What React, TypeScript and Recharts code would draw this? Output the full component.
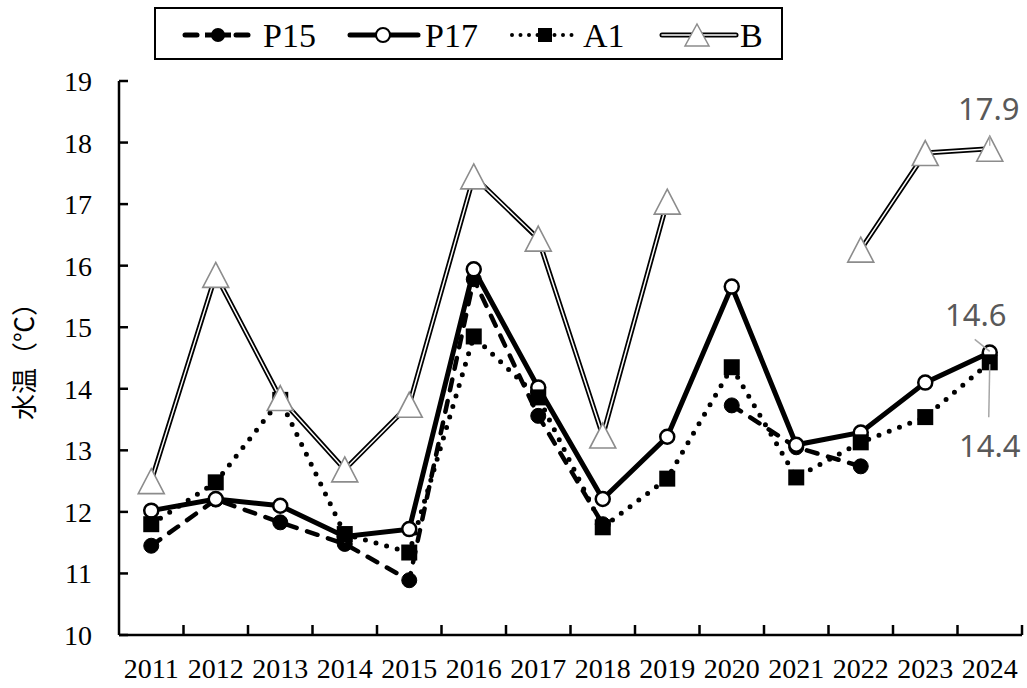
import React from 'react';
import {
  LineChart,
  Line,
  XAxis,
  YAxis,
  LabelList,
} from 'recharts';

const years = ['2011', '2012', '2013', '2014', '2015', '2016', '2017', '2018', '2019', '2020', '2021', '2022', '2023', '2024'];
const p15 = [11.45, 12.2, 11.83, 11.48, 10.89, 15.78, 13.56, 11.8, null, 13.73, 13.05, 12.74, null, null];
const p17 = [12.02, 12.21, 12.1, 11.6, 11.72, 15.94, 14.02, 12.21, 13.22, 15.66, 13.09, 13.29, 14.1, 14.59];
const a1 = [11.8, 12.48, 13.82, 11.64, 11.34, 14.85, 13.86, 11.75, 12.54, 14.35, 12.56, 13.13, 13.54, 14.43];
const b = [12.5, 15.85, 13.85, 12.69, 13.74, 17.45, 16.44, 13.24, 17.04, null, null, 16.26, 17.83, 17.9];
const yTicks = [10, 11, 12, 13, 14, 15, 16, 17, 18, 19];
const seriesNames = ['P15', 'P17', 'A1', 'B'];

const data = years.map((year, i) => ({ year, p15: p15[i], p17: p17[i], a1: a1[i], b: b[i] }));

const W = 1027;
const H = 688;
const PLOT_LEFT = 119;
const PLOT_RIGHT = 1022;
const PLOT_TOP = 81;
const PLOT_BOTTOM = 635;
const HALF_BAND = (PLOT_RIGHT - PLOT_LEFT) / years.length / 2;
const SERIF = '"Liberation Serif", "Times New Roman", serif';
const LABEL_GRAY = '#595959';

const XTick = (props: any) => {
  const { x, payload } = props;
  return (
    <g>
      <line x1={x + HALF_BAND} x2={x + HALF_BAND} y1={PLOT_BOTTOM} y2={PLOT_BOTTOM - 10} stroke="#000" strokeWidth={2.5} />
      <text x={x} y={PLOT_BOTTOM + 43} textAnchor="middle" fontSize={28} fontFamily={SERIF} fill="#000">
        {payload.value}
      </text>
    </g>
  );
};

const YTick = (props: any) => {
  const { y, payload } = props;
  return (
    <g>
      <line x1={PLOT_LEFT} x2={PLOT_LEFT + 9} y1={y} y2={y} stroke="#000" strokeWidth={2.5} />
      <text x={92} y={y + 10} textAnchor="end" fontSize={28} fontFamily={SERIF} fill="#000">
        {payload.value}
      </text>
    </g>
  );
};

const missing = (props: any) => props.value == null || props.cy == null || isNaN(props.cy);

const circleDot = (props: any) => {
  const { cx, cy, index } = props;
  if (missing(props)) return <g key={`p15-${index}`} />;
  return <circle key={`p15-${index}`} cx={cx} cy={cy} r={7.5} fill="#000" stroke="#000" strokeWidth={1} />;
};

const openDot = (props: any) => {
  const { cx, cy, index } = props;
  if (missing(props)) return <g key={`p17-${index}`} />;
  return <circle key={`p17-${index}`} cx={cx} cy={cy} r={7} fill="#fff" stroke="#000" strokeWidth={2.5} />;
};

const squareDot = (props: any) => {
  const { cx, cy, index } = props;
  if (missing(props)) return <g key={`a1-${index}`} />;
  return <rect key={`a1-${index}`} x={cx - 8} y={cy - 8} width={16} height={16} fill="#000" />;
};

const triangleDot = (props: any) => {
  const { cx, cy, index } = props;
  if (missing(props)) return <g key={`b-${index}`} />;
  const pts = `${cx},${cy - 12.5} ${cx + 13},${cy + 12.5} ${cx - 13},${cy + 12.5}`;
  return <polygon key={`b-${index}`} points={pts} fill="#fff" stroke="#8c8c8c" strokeWidth={1.6} />;
};

const last = years.length - 1;

const bLabel = (props: any) => {
  const { x, y, index, value } = props;
  if (index !== last) return null;
  return (
    <g>
      <line x1={x} y1={y - 13} x2={x} y2={y - 3} stroke="#a6a6a6" strokeWidth={1.2} />
      <text x={x - 1} y={y - 29} textAnchor="middle" fontSize={31} fontFamily='"Noto Sans", sans-serif' fill={LABEL_GRAY}>
        {Number(value).toFixed(1)}
      </text>
    </g>
  );
};

const p17Label = (props: any) => {
  const { x, y, index, value } = props;
  if (index !== last) return null;
  return (
    <g>
      <line x1={x - 15} y1={y - 13} x2={x} y2={y - 1} stroke="#a6a6a6" strokeWidth={1.5} />
      <text x={x - 14} y={y - 26} textAnchor="middle" fontSize={31} fontFamily='"Noto Sans", sans-serif' fill={LABEL_GRAY}>
        {Number(value).toFixed(1)}
      </text>
    </g>
  );
};

const a1Label = (props: any) => {
  const { x, y, index, value } = props;
  if (index !== last) return null;
  return (
    <g>
      <line x1={x} y1={y + 2} x2={x - 1} y2={y + 55} stroke="#a6a6a6" strokeWidth={1.5} />
      <text x={x} y={y + 95} textAnchor="middle" fontSize={31} fontFamily='"Noto Sans", sans-serif' fill={LABEL_GRAY}>
        {Number(value).toFixed(1)}
      </text>
    </g>
  );
};

const YLabel = () => (
  <text
    x={22}
    y={355}
    transform="rotate(-90, 22, 355)"
    textAnchor="middle"
    dominantBaseline="central"
    fontSize={26}
    fontFamily='"Noto Sans CJK JP", sans-serif'
    fill="#000"
  >
    水温（℃）
  </text>
);

const Legend = () => {
  const cy = 35;
  const textY = 47;
  const txt = { fontSize: 34, fontFamily: SERIF, fill: '#000' };
  return (
    <svg width={W} height={70} style={{ position: 'absolute', left: 0, top: 0 }}>
      <rect x={155} y={8} width={627} height={51} fill="#fff" stroke="#000" strokeWidth={2} />
      {/* P15 */}
      <line x1={185} x2={197} y1={cy} y2={cy} stroke="#000" strokeWidth={5} strokeLinecap="round" />
      <line x1={236} x2={248} y1={cy} y2={cy} stroke="#000" strokeWidth={5} strokeLinecap="round" />
      <line x1={205} x2={231} y1={cy} y2={cy} stroke="#000" strokeWidth={5} />
      <circle cx={218} cy={cy} r={7} fill="#000" />
      <text x={263} y={textY} {...txt}>{seriesNames[0]}</text>
      {/* P17 */}
      <line x1={350} x2={418} y1={cy} y2={cy} stroke="#000" strokeWidth={5} strokeLinecap="round" />
      <circle cx={383} cy={cy} r={7} fill="#fff" stroke="#000" strokeWidth={2} />
      <text x={425} y={textY} {...txt}>{seriesNames[1]}</text>
      {/* A1 */}
      <line x1={512} x2={580} y1={cy} y2={cy} stroke="#000" strokeWidth={4} strokeLinecap="round" strokeDasharray="0 8.5" />
      <rect x={538} y={cy - 7} width={14} height={14} fill="#000" />
      <text x={583} y={textY} {...txt}>{seriesNames[2]}</text>
      {/* B */}
      <line x1={662} x2={736} y1={cy} y2={cy} stroke="#000" strokeWidth={5} strokeLinecap="round" />
      <line x1={662} x2={736} y1={cy} y2={cy} stroke="#fff" strokeWidth={1.6} strokeLinecap="round" />
      <polygon points={`697,${cy - 11} 709,${cy + 11} 685,${cy + 11}`} fill="#fff" stroke="#8c8c8c" strokeWidth={1.5} />
      <text x={740} y={textY} {...txt}>{seriesNames[3]}</text>
    </svg>
  );
};

export default function App() {
  return (
    <div style={{ position: 'absolute', left: 0, top: 0, width: W, height: H, background: '#fff' }}>
      <LineChart
        width={W}
        height={H}
        data={data}
        margin={{ top: PLOT_TOP, right: W - PLOT_RIGHT, bottom: 0, left: 0 }}
      >
        <XAxis
          dataKey="year"
          height={H - PLOT_BOTTOM}
          padding={{ left: HALF_BAND, right: HALF_BAND }}
          interval={0}
          tick={XTick}
          tickLine={false}
          axisLine={{ stroke: '#000', strokeWidth: 2.5 }}
        />
        <XAxis
          xAxisId="top"
          dataKey="year"
          orientation="top"
          height={0}
          tick={false}
          tickLine={false}
          axisLine={{ stroke: '#000', strokeWidth: 2.5 }}
        />
        <YAxis
          domain={[10, 19]}
          ticks={yTicks}
          interval={0}
          width={PLOT_LEFT}
          tick={YTick}
          tickLine={false}
          axisLine={{ stroke: '#000', strokeWidth: 2.5 }}
          label={{ content: YLabel }}
        />
        <YAxis
          yAxisId="right"
          orientation="right"
          domain={[10, 19]}
          width={0}
          tick={false}
          tickLine={false}
          axisLine={{ stroke: '#000', strokeWidth: 2.5 }}
        />
        <Line
          dataKey="p15"
          name={seriesNames[0]}
          type="linear"
          stroke="#000"
          strokeWidth={4.5}
          strokeDasharray="11 11"
          strokeLinecap="round"
          dot={circleDot}
          activeDot={false}
          isAnimationActive={false}
        />
        <Line
          dataKey="p17"
          name={seriesNames[1]}
          type="linear"
          stroke="#000"
          strokeWidth={5}
          dot={openDot}
          activeDot={false}
          isAnimationActive={false}
        >
          <LabelList dataKey="p17" content={p17Label} />
        </Line>
        <Line
          dataKey="a1"
          name={seriesNames[2]}
          type="linear"
          stroke="#000"
          strokeWidth={5}
          strokeDasharray="0 11"
          strokeLinecap="round"
          dot={squareDot}
          activeDot={false}
          isAnimationActive={false}
        >
          <LabelList dataKey="a1" content={a1Label} />
        </Line>
        <Line
          dataKey="b"
          name={seriesNames[3]}
          type="linear"
          stroke="#000"
          strokeWidth={5}
          dot={false}
          activeDot={false}
          isAnimationActive={false}
          legendType="none"
        />
        <Line
          dataKey="b"
          name={seriesNames[3]}
          type="linear"
          stroke="#fff"
          strokeWidth={1.5}
          dot={triangleDot}
          activeDot={false}
          isAnimationActive={false}
        >
          <LabelList dataKey="b" content={bLabel} />
        </Line>
      </LineChart>
      <Legend />
    </div>
  );
}
